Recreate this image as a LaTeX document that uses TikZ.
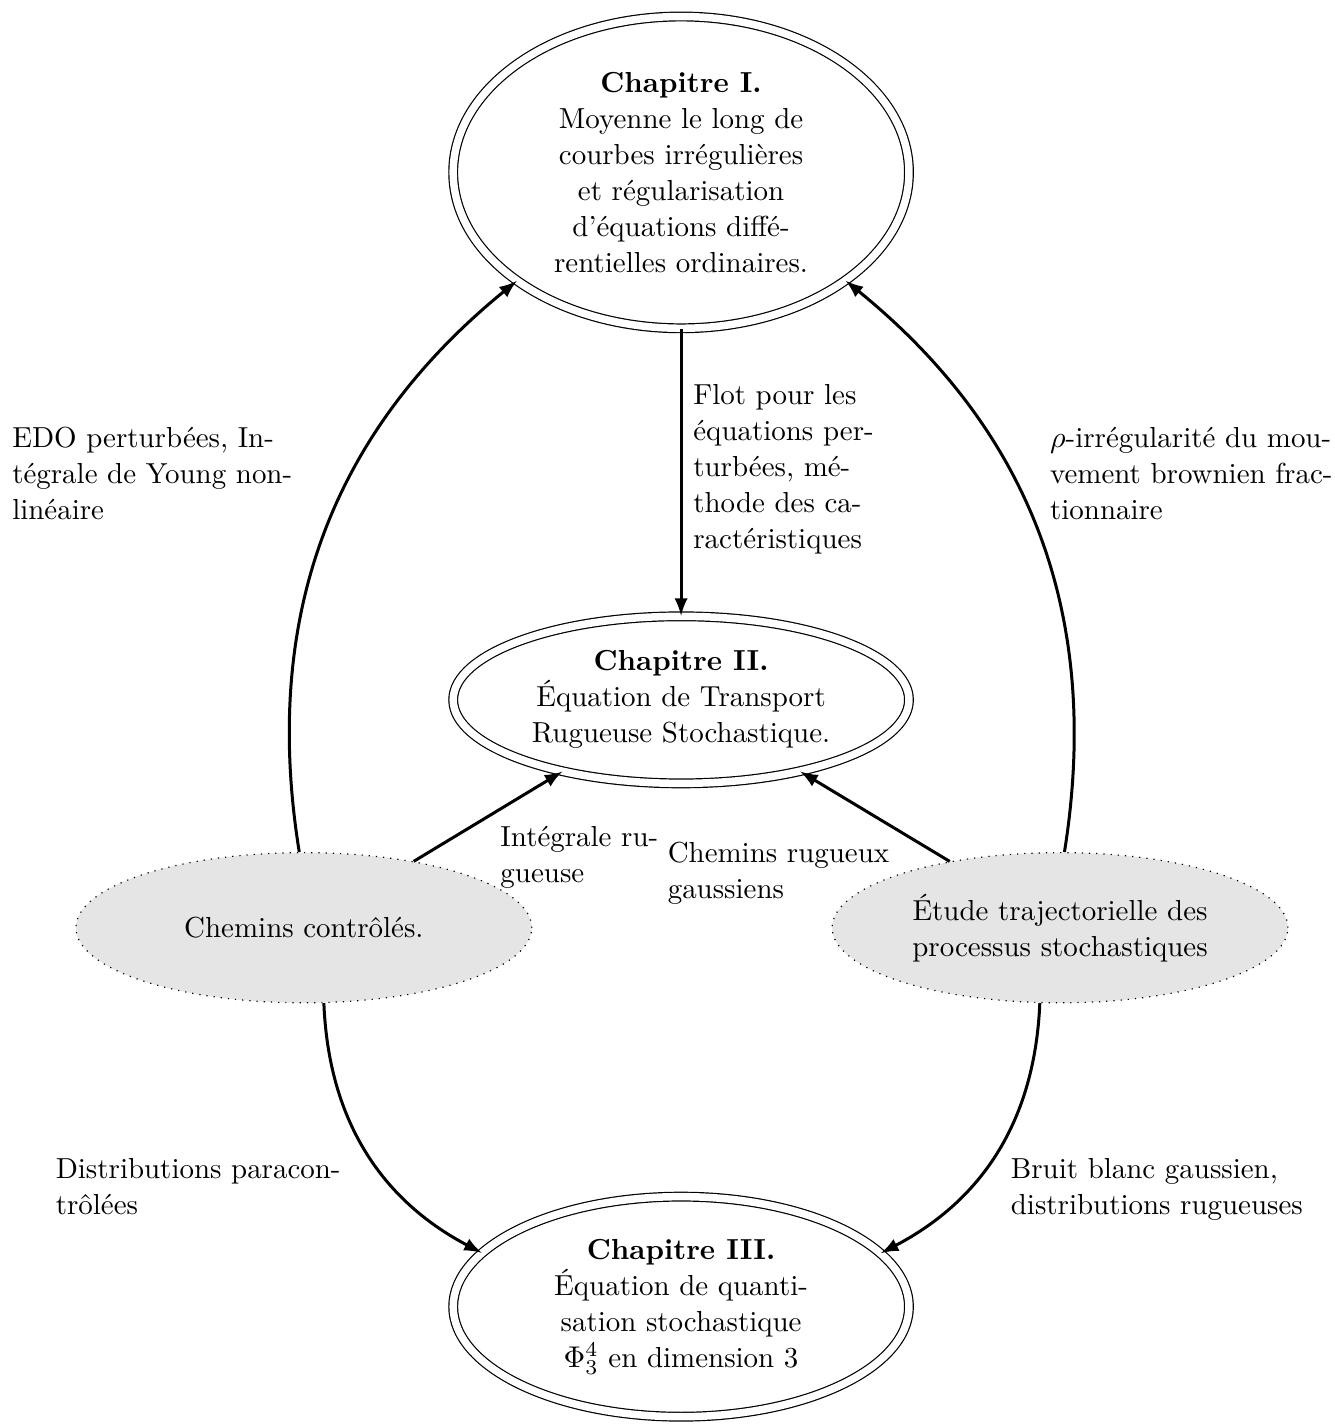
\documentclass[tikz,border=0pt]{standalone}
\usetikzlibrary{shapes.geometric,arrows}
\begin{document}
\begin{tikzpicture}[font=\fontsize{9.65pt}{12pt}\selectfont,
  chap/.style={ellipse,draw,double,double distance=2.5pt,minimum width=5.34cm,align=center},
  outil/.style={ellipse,draw,dotted,fill=gray!20,minimum width=5.34cm,minimum height=1.76cm,align=center},
  lien/.style={line width=1pt,->,>=latex},
  legende/.style={anchor=west,align=left}]
  \useasboundingbox (0,0) rectangle (15.64,-16.72);
  % chapitres
  \node[chap] (chapI) at (7.98,-2.02) {\textbf{Chapitre I.}\\ Moyenne le long de\\ courbes irrégulières\\ et régularisation\\ d’équations diffé-\\rentielles ordinaires.};
  \node[chap] (chapII) at (7.98,-8.20) {\textbf{Chapitre II.}\\ Équation de Transport\\ Rugueuse Stochastique.};
  \node[chap] (chapIII) at (7.98,-15.31) {\textbf{Chapitre III.}\\ Équation de quanti-\\sation stochastique\\ $\Phi^4_3$ en dimension 3};
  % outils
  \node[outil] (controles) at (3.56,-10.87) {Chemins contrôlés.};
  \node[outil] (etude) at (12.42,-10.87) {Étude trajectorielle des\\ processus stochastiques};
  % fleches
  \draw[lien] (chapI) -- (chapII);
  \draw[lien] (controles) to[bend left=30] (chapI);
  \draw[lien] (etude) to[bend right=30] (chapI);
  \draw[lien] (controles) -- (chapII);
  \draw[lien] (etude) -- (chapII);
  \draw[lien] (controles) to[bend right=30] (chapIII);
  \draw[lien] (etude) to[bend left=30] (chapIII);
  % etiquettes
  \node[legende] (edo) at (0.02,-5.55) {EDO perturbées, In-\\tégrale de Young non-\\linéaire};
  \node[legende] (flot) at (8.00,-5.50) {Flot pour les\\ équations per-\\ turbées, mé-\\ thode des ca-\\ ractéristiques};
  \node[legende] (rho) at (12.18,-5.55) {$\rho$-irrégularité du mou-\\vement brownien frac-\\tionnaire};
  \node[legende] (integrale) at (5.74,-10.05) {Intégrale ru-\\gueuse};
  \node[legende] (gaussiens) at (7.70,-10.23) {Chemins rugueux\\ gaussiens};
  \node[legende] (paracontr) at (0.53,-13.90) {Distributions paracon-\\trôlées};
  \node[legende] (bruit) at (11.72,-13.94) {Bruit blanc gaussien,\\ distributions rugueuses};
\end{tikzpicture}
\end{document}
